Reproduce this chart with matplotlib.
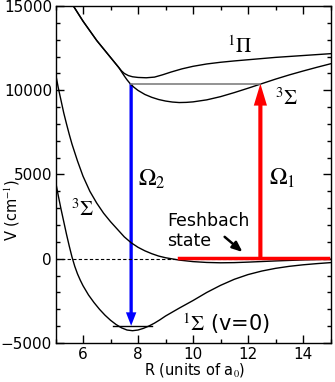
import numpy as np
import matplotlib
matplotlib.use('Agg')
import matplotlib.pyplot as plt
from matplotlib.ticker import MultipleLocator

plt.rcParams['font.family'] = ['DejaVu Sans']
plt.rcParams['mathtext.fontset'] = 'stix'

# potential curves (R in a0, V in cm^-1)
R_x = [5.0, 5.1, 5.2, 5.3, 5.4, 5.5, 5.6, 5.7, 5.8, 5.9, 6.0, 6.2, 6.4, 6.6, 6.8, 7.0,
       7.2, 7.4, 7.6, 7.8, 8.0, 8.2, 8.4, 8.6, 8.8, 9.0, 9.5, 10.0, 10.5, 11.0, 11.5,
       12.0, 12.5, 13.0, 13.5, 14.0, 14.5, 15.0]
V_x = [4600, 3750, 2950, 2200, 1450, 750, 100, -450, -900, -1270, -1600, -2150, -2600,
       -3000, -3350, -3650, -3900, -4100, -4230, -4270, -4230, -4130, -3990, -3820,
       -3620, -3400, -2930, -2480, -2000, -1580, -1220, -940, -730, -570, -450, -360,
       -290, -230]

R_a = [5.0, 5.1, 5.2, 5.3, 5.4, 5.5, 5.6, 5.8, 6.0, 6.25, 6.5, 6.75, 7.0, 7.25, 7.5,
       7.75, 8.0, 8.25, 8.5, 8.75, 9.0, 9.5, 10.0, 10.5, 11.0, 11.5, 12.0, 13.0, 14.0,
       15.0]
V_a = [11000, 10150, 9400, 8650, 8000, 7380, 6800, 5800, 4900, 4000, 3300, 2700, 2200,
       1750, 1300, 950, 680, 470, 300, 160, 60, -80, -170, -220, -240, -230, -200,
       -130, -70, -30]

R_pi = [5.5, 5.65, 6.0, 6.5, 7.0, 7.3, 7.4, 7.5, 7.65, 7.8, 8.0, 8.3, 8.6, 8.9, 9.2,
        9.6, 10.0, 10.5, 11.0, 11.5, 12.0, 13.0, 14.0, 15.0]
V_pi = [15350, 15000, 14100, 12950, 11950, 11350, 11150, 11000, 10870, 10800, 10760,
        10740, 10780, 10920, 11080, 11270, 11420, 11560, 11660, 11740, 11810, 11950,
        12060, 12170]

R_s3 = [5.5, 5.65, 6.0, 6.5, 7.0, 7.3, 7.4, 7.5, 7.6, 7.7, 7.85, 8.0, 8.25, 8.5, 8.75,
        9.0, 9.25, 9.5, 9.75, 10.0, 10.5, 11.0, 11.5, 12.0, 12.5, 13.0, 13.5, 14.0,
        14.5, 15.0]
V_s3 = [15350, 15000, 14100, 12950, 11950, 11350, 11100, 10850, 10620, 10420, 10180,
        9990, 9750, 9580, 9450, 9360, 9300, 9270, 9280, 9310, 9430, 9620, 9860, 10120,
        10390, 10660, 10910, 11140, 11360, 11570]

# transitions
R_omega2 = 7.75
R_omega1 = 12.45
V_upper = 10390
V_v0 = -3980
V_fesh = 60
R_fesh = [9.5, 14.9]
R_v0 = [7.1, 8.5]

fig = plt.figure(figsize=(3.35, 3.82), dpi=100)
ax = fig.add_axes([0.1657, 0.1021, 0.8209, 0.8822])

ax.plot(R_x, V_x, color='black', lw=1.0)
ax.plot(R_a, V_a, color='black', lw=1.0)
ax.plot(R_pi, V_pi, color='black', lw=1.0)
ax.plot(R_s3, V_s3, color='black', lw=1.0)

ax.axhline(0, color='black', lw=0.8, ls=(0, (3, 2)))
ax.plot(R_v0, [V_v0, V_v0], color='black', lw=1.0)
ax.plot([R_omega2, R_omega1], [V_upper, V_upper], color='gray', lw=1.2)
ax.plot(R_fesh, [V_fesh, V_fesh], color='red', lw=2.5)

ax.arrow(R_omega2, V_upper, 0, V_v0 - V_upper, width=0.12, head_width=0.38,
         head_length=800, length_includes_head=True, color='blue', lw=0)
ax.arrow(R_omega1, V_fesh, 0, V_upper - V_fesh, width=0.15, head_width=0.48,
         head_length=1300, length_includes_head=True, color='red', lw=0)

ax.annotate('', xy=(11.8, 400), xytext=(11.15, 1300),
            arrowprops=dict(arrowstyle='-|>,head_length=0.6,head_width=0.25',
                            color='black', lw=1.8, shrinkA=0, shrinkB=0))

ax.text(11.7, 12640, r'$^1\Pi$', fontsize=15, ha='center', va='center')
ax.text(13.4, 9550, r'$^3\Sigma$', fontsize=15, ha='center', va='center')
ax.text(5.97, 2970, r'$^3\Sigma$', fontsize=15, ha='center', va='center')
ax.text(8.5, 4750, r'$\Omega_2$', fontsize=17, ha='center', va='center')
ax.text(13.25, 4800, r'$\Omega_1$', fontsize=17, ha='center', va='center')
ax.text(11.2, -3850, r'$^1\Sigma$ (v=0)', fontsize=15, ha='center', va='center')
ax.text(9.05, 1650, 'Feshbach\nstate', fontsize=12.5, ha='left', va='center',
        linespacing=1.15)

ax.set_xlim(5, 15)
ax.set_ylim(-5000, 15000)
ax.xaxis.set_major_locator(MultipleLocator(2))
ax.xaxis.set_minor_locator(MultipleLocator(1))
ax.yaxis.set_major_locator(MultipleLocator(5000))
ax.yaxis.set_minor_locator(MultipleLocator(1000))
ax.tick_params(which='both', direction='in', top=True, right=True, width=1.0,
               labelsize=11)
ax.tick_params(which='major', length=6)
ax.tick_params(which='minor', length=3)
ax.tick_params(axis='y', pad=2.5)
ax.tick_params(axis='x', pad=3)
for s in ax.spines.values():
    s.set_linewidth(1.0)

fig.text(12 / 335, 1 - 210 / 382, r'V (cm$^{-1}$)', rotation=90, fontsize=10.5,
         ha='center', va='center')
fig.text(195 / 335, 1 - 370 / 382, r'R (units of a$_0$)', fontsize=10.5,
         ha='center', va='center')

fig.savefig('out.png', dpi=100)
